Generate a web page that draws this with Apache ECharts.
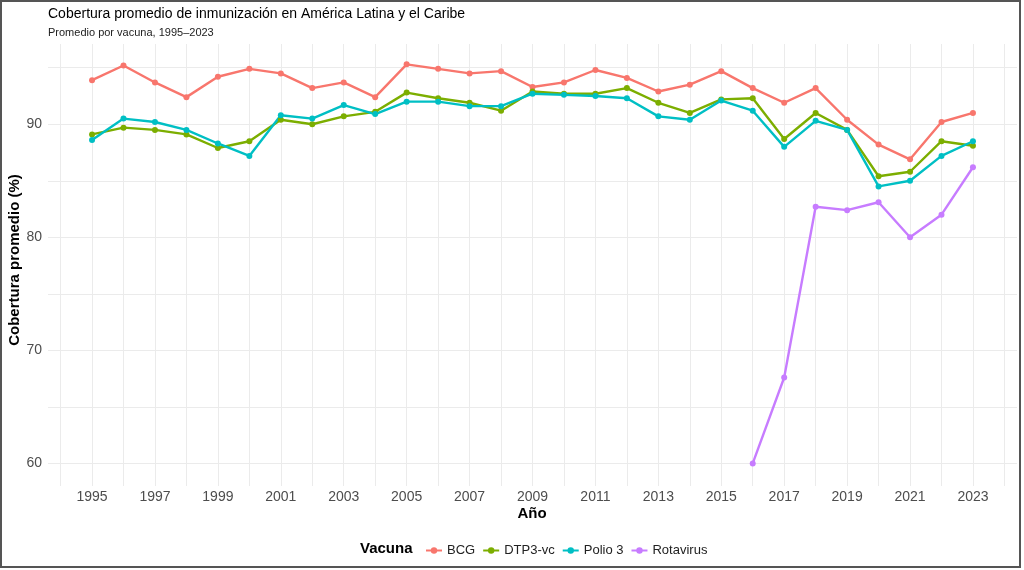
<!DOCTYPE html>
<html>
<head>
<meta charset="utf-8">
<script src="https://cdn.jsdelivr.net/npm/echarts@6/dist/echarts.min.js"></script>
<style>
html,body{margin:0;padding:0;background:#fff;}
#chart{width:1024px;height:570px;}
</style>
</head>
<body>
<div id="chart"></div>
<script>
const years = [1995,1996,1997,1998,1999,2000,2001,2002,2003,2004,2005,2006,2007,2008,2009,2010,2011,2012,2013,2014,2015,2016,2017,2018,2019,2020,2021,2022,2023];
const bcg = [93.9,95.2,93.7,92.4,94.2,94.9,94.5,93.2,93.7,92.4,95.3,94.9,94.5,94.7,93.3,93.7,94.8,94.1,92.9,93.5,94.7,93.2,91.9,93.2,90.4,88.2,86.9,90.2,91.0];
const dtp3 = [89.1,89.7,89.5,89.1,87.9,88.5,90.4,90.0,90.7,91.1,92.8,92.3,91.9,91.2,92.9,92.7,92.7,93.2,91.9,91.0,92.2,92.3,88.7,91.0,89.5,85.4,85.8,88.5,88.1];
const polio3 = [88.6,90.5,90.2,89.5,88.3,87.2,90.8,90.5,91.7,90.9,92.0,92.0,91.6,91.6,92.7,92.6,92.5,92.3,90.7,90.4,92.1,91.2,88.0,90.3,89.5,84.5,85.0,87.2,88.5];
const rotaYears = [2016,2017,2018,2019,2020,2021,2022,2023];
const rotavirus = [60.0,67.6,82.7,82.4,83.1,80.0,82.0,86.2];
const seriesNames = ['BCG','DTP3-vc','Polio 3','Rotavirus'];
const colors = ['#F8766D','#7CAE00','#00BFC4','#C77CFF'];
const xLabelYears = [1995,1997,1999,2001,2003,2005,2007,2009,2011,2013,2015,2017,2019,2021,2023];
const xGridYears = [1994,1995,1996,1997,1998,1999,2000,2001,2002,2003,2004,2005,2006,2007,2008,2009,2010,2011,2012,2013,2014,2015,2016,2017,2018,2019,2020,2021,2022,2023,2024];
const yLabelValues = [60,70,80,90];
const yGridValues = [60,65,70,75,80,85,90,95];

function pairs(xs, ys){ return xs.map((x,i)=>[x, ys[i]]); }
const seriesData = [pairs(years,bcg), pairs(years,dtp3), pairs(years,polio3), pairs(rotaYears,rotavirus)];

const chart = echarts.init(document.getElementById('chart'), null, {renderer:'canvas'});
const font = 'Liberation Sans, Arial, sans-serif';
const option = {
  backgroundColor: '#ffffff',
  animation: false,
  textStyle: {fontFamily: font},
  grid: {left: 48, right: 7, top: 44, height: 442, containLabel: false},
  xAxis: {
    type: 'value', min: 1993.6, max: 2024.4,
    axisLine: {show: false},
    axisTick: {show: false, customValues: xGridYears},
    axisLabel: {customValues: xLabelYears, color: '#4D4D4D', fontSize: 14, margin: 4, fontFamily: font, formatter: v => String(v)},
    splitLine: {show: true, lineStyle: {color: '#EBEBEB', width: 1}}
  },
  yAxis: {
    type: 'value', min: 58.0, max: 97.1,
    axisLine: {show: false},
    axisTick: {show: false, customValues: yGridValues},
    axisLabel: {customValues: yLabelValues, color: '#4D4D4D', fontSize: 14, margin: 6, fontFamily: font},
    splitLine: {show: true, lineStyle: {color: '#EBEBEB', width: 1}}
  },
  legend: {
    data: seriesNames,
    left: 420, top: 539,
    itemWidth: 16, itemHeight: 8, itemGap: 7,
    textStyle: {fontSize: 13, color: '#222', fontFamily: font}
  },
  graphic: [
    {type:'text', left: 48, top: 7, style:{text:'Cobertura promedio de inmunización en América Latina y el Caribe', fontSize:14, fill:'#000', fontFamily: font}},
    {type:'text', left: 48, top: 27, style:{text:'Promedio por vacuna, 1995–2023', fontSize:11, fill:'#222', fontFamily: font}},
    {type:'text', x: 15, y: 260, rotation: Math.PI/2, style:{text:'Cobertura promedio (%)', fontSize:15, fontWeight:'bold', fill:'#000', align:'center', verticalAlign:'middle', fontFamily: font}},
    {type:'text', x: 532, y: 514, style:{text:'Año', fontSize:15, fontWeight:'bold', fill:'#000', align:'center', verticalAlign:'middle', fontFamily: font}},
    {type:'text', x: 360, y: 549, style:{text:'Vacuna', fontSize:15, fontWeight:'bold', fill:'#000', align:'left', verticalAlign:'middle', fontFamily: font}},
    {type:'rect', shape:{x:1, y:1, width:1019, height:566}, style:{fill:'none', stroke:'#555', lineWidth:2}, z: 100}
  ],
  series: seriesNames.map((n,i)=>({
    name: n, type: 'line', data: seriesData[i],
    symbol: 'circle', symbolSize: 6,
    itemStyle: {color: colors[i]},
    lineStyle: {color: colors[i], width: 2.4},
    emphasis: {disabled: true}
  }))
};
chart.setOption(option);
</script>
</body>
</html>
